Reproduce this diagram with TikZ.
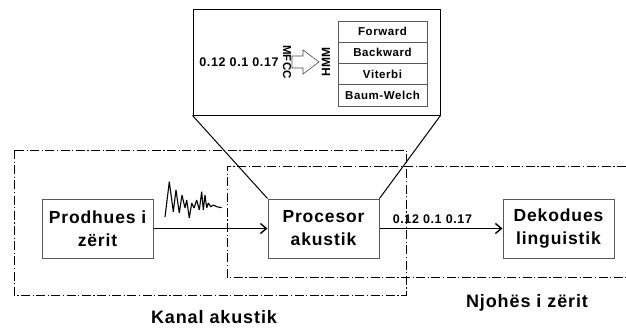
\documentclass[tikz,border=0pt]{standalone}
\usepackage{fontspec}
\setmainfont{Liberation Sans}
\newfontfamily\gjere[LetterSpace=5]{Liberation Sans}
\usetikzlibrary{positioning,arrows.meta}

\tikzset{
    blok/.style={draw=black!65, fill=white, line width=1pt, minimum width=111pt,
        minimum height=59pt, align=center, inner sep=1pt,
        font=\gjere\bfseries\fontsize{17.5}{23}\selectfont},
    qeli/.style={draw=black!65, line width=0.9pt, minimum width=89pt,
        minimum height=21.25pt, inner sep=0pt, outer sep=0pt,
        font=\gjere\bfseries\fontsize{11.5}{13}\selectfont},
    kufi/.style={line width=0.8pt, dash pattern=on 9pt off 2.5pt on 1.2pt off 2.5pt},
    shigjete/.style={line width=1.4pt, -{Straight Barb[length=6pt,width=10pt]}},
    titull/.style={anchor=base, font=\gjere\bfseries\fontsize{18}{20}\selectfont},
}

\begin{document}
\begin{tikzpicture}[x=1pt, y=-1pt]

    \useasboundingbox (0,0) rectangle (626,327);

    \def\kanal{(14,150) rectangle (406,295)}
    \def\njohes{(626,166) -- (227,166) -- (227,277) -- (626,277)}

    %draw frames:
    \draw[kufi] \kanal;
    \draw[kufi] \njohes;
    \node[titull] (kanal) at (214,323) {Kanal akustik};
    \node[titull] (njohes) at (527,307) {Njohës i zërit};

    %draw blocks:
    \node[blok] (prodhues) at (97.5,228.5) {Prodhues i\\zërit};
    \node[blok, right=114pt of prodhues] (procesor) {Procesor\\akustik};
    \node[blok, right=123pt of procesor] (dekodues) {Dekodues\\linguistik};

    \draw[shigjete] (prodhues) -- (procesor);
    \draw[shigjete] (procesor) -- node[pos=0.43, above=1pt,
        font=\gjere\bfseries\fontsize{12.5}{14}\selectfont] (vektor) {0.12 0.1 0.17} (dekodues);

    %sound wave:
    \draw[line width=1.1pt, line join=bevel]
        (165,217) -- (169.3,181.7) -- (173.3,211.7) -- (176,190) -- (179.3,213)
        -- (182,195) -- (185,208) -- (186.7,200) -- (189.3,218) -- (191.7,203)
        -- (194,208) -- (196.7,200) -- (199.3,210) -- (201.7,191.7) -- (203.3,210)
        -- (205,195) -- (206.7,208) -- (208.3,203) -- (210.7,206.7) -- (213.3,205)
        -- (216.7,206.7) -- (221.7,207.7);

    %zoomed view:
    \node[draw, line width=1pt, fill=white, minimum width=247pt, minimum height=106pt]
        (zmadh) at (316.5,62) {};
    \draw[line width=1pt] (zmadh.south west) -- (procesor.north west);
    \draw[line width=1pt] (zmadh.south east) -- (procesor.north east);

    \node[font=\gjere\bfseries\fontsize{12.5}{14}\selectfont] (vlerat) at (239,62) {0.12 0.1 0.17};
    \node[rotate=-90, font=\bfseries\fontsize{11.5}{13}\selectfont] (mfcc) at (287,62) {MFCC};
    \node[rotate=90, font=\bfseries\fontsize{12}{13}\selectfont] (hmm) at (326,62) {HMM};
    \draw[line width=0.6pt, black!70]
        (292,56) -- (303,56) -- (303,50) -- (319,62) -- (303,74) -- (303,68) -- (292,68) -- cycle;

    \node[qeli] (forward) at (382.5,31.6) {Forward};
    \node[qeli, below=0pt of forward] (backward) {Backward};
    \node[qeli, below=0pt of backward] (viterbi) {Viterbi};
    \node[qeli, below=0pt of viterbi] (baumwelch) {Baum-Welch};

\end{tikzpicture}
\end{document}
